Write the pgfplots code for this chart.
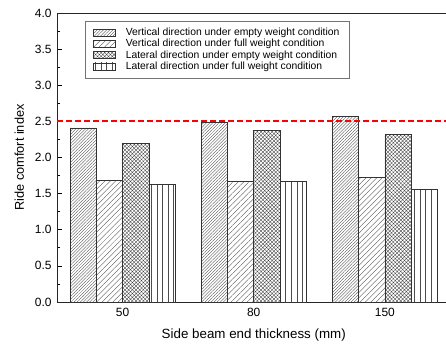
\documentclass[border=0pt]{standalone}
\usepackage{fontspec}
\setmainfont{Liberation Sans}
\usepackage{pgfplots}
\pgfplotsset{compat=1.18}
\usetikzlibrary{patterns.meta}
\begin{document}
\begin{tikzpicture}
\begin{axis}[
  scale only axis, width=393.5bp, height=289bp,
  xmin=-0.5, xmax=2.5, ymin=0, ymax=4,
  xtick={0,1,2}, xticklabels={50,80,150},
  ytick={0,0.5,1,1.5,2,2.5,3,3.5,4}, minor y tick num=1,
  yticklabel style={/pgf/number format/fixed, /pgf/number format/fixed zerofill, /pgf/number format/precision=1, xshift=-2bp},
  xticklabel style={yshift=-3bp},
  /pgf/number format/assume math mode=true,
  tick align=inside, ytick pos=left, xtick pos=bottom, xtick style={draw=none},
  major tick length=5bp, minor tick length=3bp,
  tick style={line width=0.7bp, black},
  tick label style={font=\fontsize{12}{14}\selectfont},
  xlabel style={font=\fontsize{13.4}{15}\selectfont, at={(ticklabel cs:0.5,5bp)}},
  ylabel style={font=\fontsize{12.8}{15}\selectfont, at={(ticklabel cs:0.5,4bp)}},
  xlabel={Side beam end thickness (mm)}, ylabel={Ride comfort index},
  axis line style={line width=0.9bp, black!85},
  legend style={at={(0.071,0.973)}, anchor=north west, draw=black!55, line width=0.5bp,
    font=\fontsize{10.4}{12}\selectfont, cells={anchor=west}, inner xsep=8bp, inner ysep=6bp,
    row sep=-0.2bp, nodes={inner xsep=2bp, inner ysep=1.2bp},
    /tikz/every odd column/.append style={column sep=8bp}},
  legend image code/.code={\draw[#1] (0bp,-3.5bp) rectangle (22bp,3.5bp);},
]
\coordinate (BL) at (rel axis cs:0,0);
\addplot[ybar, bar width=0.2, bar shift=-0.3, draw=black!80, line width=0.6bp,
  pattern={Lines[angle=45,distance=2.2bp,line width=0.35bp]}, pattern color=black!70]
  coordinates {(0,2.41) (1,2.49) (2,2.57)};
\addplot[ybar, bar width=0.2, bar shift=-0.1, draw=black!80, line width=0.6bp,
  pattern={Lines[angle=45,distance=3.8bp,line width=0.35bp]}, pattern color=black!70]
  coordinates {(0,1.68) (1,1.67) (2,1.73)};
\addplot[ybar, bar width=0.2, bar shift=0.1, draw=black!80, line width=0.6bp,
  pattern={Hatch[angle=45,distance=2.6bp,line width=0.35bp]}, pattern color=black!75]
  coordinates {(0,2.19) (1,2.38) (2,2.32)};
\addplot[ybar, bar width=0.2, bar shift=0.3, draw=black!80, line width=0.6bp,
  pattern={Lines[angle=90,distance=5.6bp,line width=0.35bp]}, pattern color=black!70]
  coordinates {(0,1.63) (1,1.665) (2,1.56)};
\addplot[red, line width=1.8bp, dash pattern=on 6bp off 3bp, forget plot]
  coordinates {(-0.5,2.5) (2.5,2.5)};
\legend{Vertical direction under empty weight condition,
  Vertical direction under full weight condition,
  Lateral direction under empty weight condition,
  Lateral direction under full weight condition}
\end{axis}
\pgfresetboundingbox
\path[use as bounding box] ([shift={(-57bp,-43bp)}]BL) rectangle ([shift={(389bp,302bp)}]BL);
\end{tikzpicture}
\end{document}
